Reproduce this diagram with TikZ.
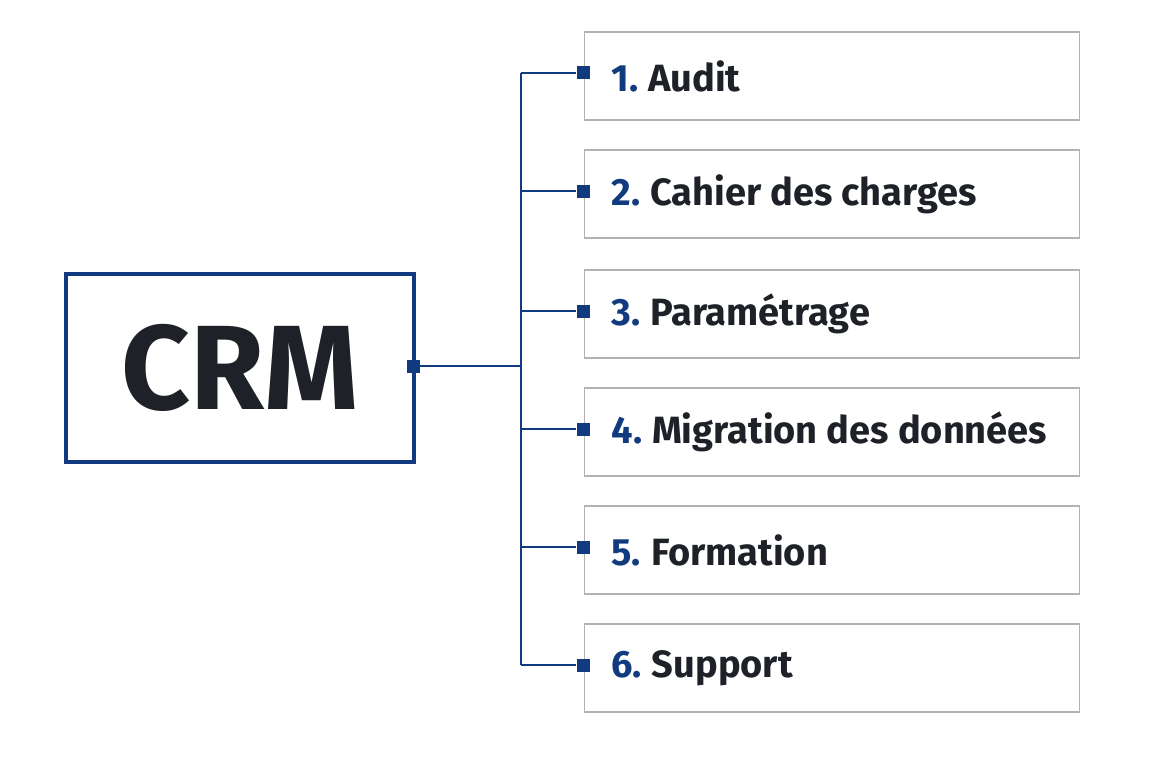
\documentclass[tikz,border=0pt]{standalone}
\usepackage{fontspec}
\setmainfont{Fira Sans}
\usetikzlibrary{positioning}
\definecolor{crmblue}{HTML}{123A7E}
\definecolor{textdark}{HTML}{1E2228}
\begin{document}
\begin{tikzpicture}[x=1pt,y=-1pt,
			main box/.style={draw=crmblue,line width=4pt,minimum width=348pt,minimum height=188pt,inner sep=0pt},
			step box/.style={draw=black!30,line width=1.8pt,minimum width=495pt,minimum height=88pt,inner sep=0pt},
			link/.style={draw=crmblue,line width=2.5pt},
			dot/.style={fill=crmblue,minimum size=13pt,inner sep=0pt}
			]
		\useasboundingbox (0,0) rectangle (1152,768);
		\node [main box] (crm) at (240,368) {};
		\node [font=\fontsize{120}{120}\selectfont\bfseries,text=textdark] (crmtext) at (crm) {CRM};
		\node [dot] (crmdot) at (413,366) {};
		\coordinate (hub) at (521,366);
		\draw [link] (crmdot) -- (hub);
		\draw [link] (521,73) -- (521,665);
		% steps
		\foreach \i/\y/\txt in {1/76/Audit,2/194/Cahier des charges,3/314/Paramétrage,4/432/Migration des données,5/550/Formation,6/668/Support}{
			\node [step box] (s\i) at (832,\y) {};
			\node [dot] (d\i) at (583,\y-3) {};
			\coordinate (b\i) at (521,\y-3);
			\draw [link] (b\i) -- (d\i);
			\node [anchor=west,font=\fontsize{38}{38}\selectfont\bfseries,text=textdark] (t\i) at (608,\y) {\textcolor{crmblue}{\i.}\hspace{10pt}\txt};
		}
\end{tikzpicture}
\end{document}
